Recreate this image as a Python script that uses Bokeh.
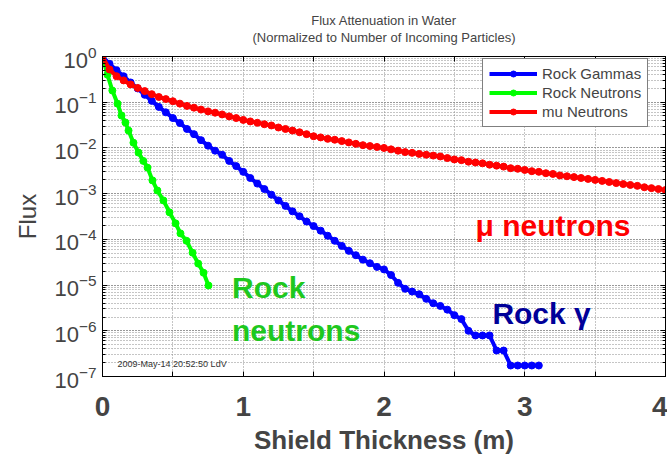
from bokeh.plotting import figure
from bokeh.models import (Range1d, LogAxis, LinearAxis, FixedTicker, LogTicker,
                          Label, Title, Legend, LegendItem)
from bokeh.embed import file_html
from bokeh.resources import INLINE

# ---------------- data ----------------
gam_x = [0.00, 0.05, 0.10, 0.15, 0.20, 0.25, 0.30, 0.35, 0.40, 0.45,
         0.50, 0.55, 0.60, 0.65, 0.70, 0.75, 0.80, 0.85, 0.90, 0.95,
         1.00, 1.05, 1.10, 1.15, 1.20, 1.25, 1.30, 1.35, 1.40, 1.45,
         1.50, 1.55, 1.60, 1.65, 1.70, 1.75, 1.80, 1.85, 1.90, 1.95,
         2.00, 2.05, 2.10, 2.15, 2.20, 2.25, 2.30, 2.35, 2.40, 2.45,
         2.50, 2.55, 2.60, 2.65, 2.70, 2.75, 2.80, 2.85, 2.90, 2.95,
         3.00, 3.05, 3.10]
gam_y = [1.0, 0.69, 0.50, 0.37, 0.27, 0.20, 0.145, 0.107, 0.079, 0.060,
         0.045, 0.035, 0.026, 0.020, 0.0148, 0.0112, 0.0087, 0.0071, 0.0052, 0.0040,
         0.0030, 0.0022, 0.00166, 0.00126, 9.5e-4, 7.1e-4, 5.4e-4, 4.1e-4, 3.2e-4, 2.45e-4,
         1.95e-4, 1.55e-4, 1.2e-4, 9.3e-5, 7.2e-5, 5.6e-5, 4.5e-5, 3.6e-5, 3.0e-5, 2.5e-5,
         2.2e-5, 1.66e-5, 1.12e-5, 8.3e-6, 7.2e-6, 6.3e-6, 5.0e-6, 4.0e-6, 3.5e-6, 2.9e-6,
         2.2e-6, 1.8e-6, 1.0e-6, 7.9e-7, 7.9e-7, 7.9e-7, 3.7e-7, 3.7e-7, 1.74e-7, 1.74e-7,
         1.74e-7, 1.74e-7, 1.74e-7]

neu_x = [0.0, 0.035, 0.07, 0.107, 0.135, 0.163, 0.185, 0.22, 0.256, 0.29, 0.32,
         0.355, 0.39, 0.433, 0.476, 0.519, 0.554, 0.597, 0.64, 0.68, 0.718, 0.753]
neu_y = [1.0, 0.40, 0.18, 0.093, 0.051, 0.036, 0.024, 0.013, 7.9e-3, 5.2e-3, 3.7e-3,
         1.95e-3, 1.17e-3, 7.1e-4, 3.9e-4, 2.24e-4, 1.35e-4, 9.3e-5, 5.1e-5, 2.95e-5,
         1.86e-5, 9.8e-6]

mu_x = [0.00, 0.05, 0.10, 0.15, 0.20, 0.25, 0.30, 0.35, 0.40, 0.45,
        0.50, 0.55, 0.60, 0.65, 0.70, 0.75, 0.80, 0.85, 0.90, 0.95,
        1.00, 1.05, 1.10, 1.15, 1.20, 1.25, 1.30, 1.35, 1.40, 1.45,
        1.50, 1.55, 1.60, 1.65, 1.70, 1.75, 1.80, 1.85, 1.90, 1.95,
        2.00, 2.05, 2.10, 2.15, 2.20, 2.25, 2.30, 2.35, 2.40, 2.45,
        2.50, 2.55, 2.60, 2.65, 2.70, 2.75, 2.80, 2.85, 2.90, 2.95,
        3.00, 3.05, 3.10, 3.15, 3.20, 3.25, 3.30, 3.35, 3.40, 3.45,
        3.50, 3.55, 3.60, 3.65, 3.70, 3.75, 3.80, 3.85, 3.90, 3.95, 4.00]
mu_y = [1.0, 0.52, 0.37, 0.30, 0.245, 0.205, 0.175, 0.15, 0.13, 0.117,
        0.105, 0.093, 0.083, 0.076, 0.069, 0.063, 0.059, 0.054, 0.049, 0.045,
        0.041, 0.038, 0.0355, 0.033, 0.031, 0.028, 0.026, 0.024, 0.022, 0.020,
        0.018, 0.017, 0.0158, 0.0151, 0.0141, 0.0132, 0.0123, 0.0115, 0.011, 0.0105,
        0.010, 0.0093, 0.0087, 0.0081, 0.0078, 0.0074, 0.0071, 0.0068, 0.0065, 0.0060,
        0.0056, 0.0054, 0.0050, 0.0048, 0.0046, 0.0043, 0.0041, 0.0039, 0.0036, 0.0035,
        0.0033, 0.0031, 0.0030, 0.0028, 0.0027, 0.0025, 0.0024, 0.0023, 0.0022, 0.0021,
        0.0020, 0.0019, 0.0018, 0.0017, 0.00162, 0.00155, 0.00148, 0.00138, 0.00132, 0.00126,
        0.0012]

series_names = ["Rock Gammas", "Rock Neutrons", "mu Neutrons"]
series_colors = ["#0000ff", "#00ff00", "#ff0000"]

x_ticks = [0, 0.5, 1, 1.5, 2, 2.5, 3, 3.5, 4]
x_tick_labels = {0: "0", 0.5: "", 1: "1", 1.5: "", 2: "2", 2.5: "", 3: "3", 3.5: "", 4: "4"}

title_lines = ["Flux Attenuation in Water", "(Normalized to Number of Incoming Particles)"]

SANS = "Liberation Sans"

p = figure(width=667, height=460, output_backend="svg", toolbar_location=None,
           x_axis_type="linear", y_axis_type="log",
           x_range=Range1d(0, 4), y_range=Range1d(1e-7, 1),
           title_location=None,
           min_border_left=102, min_border_right=2, min_border_top=56,
           min_border_bottom=84, background_fill_color="white",
           border_fill_color="white")
p.outline_line_color = "black"
p.outline_line_width = 1

# axes
xa = p.xaxis[0]
xa.ticker = FixedTicker(ticks=x_ticks)
xa.major_label_overrides = x_tick_labels
xa.major_label_text_font = SANS
xa.major_label_text_font_style = "bold"
xa.major_label_text_font_size = "28px"
xa.major_label_standoff = 20
xa.axis_label = "Shield Thickness (m)"
xa.axis_label_text_font = SANS
xa.axis_label_text_font_style = "bold"
xa.axis_label_text_font_size = "26px"
xa.axis_label_standoff = 6
xa.major_tick_in = 5
xa.major_tick_out = 0
xa.minor_tick_in = 0
xa.minor_tick_out = 0
xa.axis_line_color = "black"

ya = p.yaxis[0]
ya.ticker = LogTicker(num_minor_ticks=10)
ya.major_label_text_font = SANS
ya.major_label_text_font_size = "22px"
ya.major_label_standoff = 6
ya.axis_label = "Flux"
ya.axis_label_text_font = SANS
ya.axis_label_text_font_style = "normal"
ya.axis_label_text_font_size = "24px"
ya.axis_label_standoff = 10
ya.major_tick_in = 5
ya.major_tick_out = 0
ya.minor_tick_in = 3
ya.minor_tick_out = 0

# ticks on the right and top (labels hidden)
ra = LogAxis(ticker=LogTicker(num_minor_ticks=10), major_label_text_font_size="1px",
             major_label_text_alpha=0,
             major_tick_in=5, major_tick_out=0, minor_tick_in=3, minor_tick_out=0,
             major_label_standoff=0)
p.add_layout(ra, "right")
ta = LinearAxis(ticker=FixedTicker(ticks=x_ticks), major_label_text_font_size="1px",
                major_label_text_alpha=0,
                major_tick_in=5, major_tick_out=0, minor_tick_in=0, minor_tick_out=0,
                major_label_standoff=0)
p.add_layout(ta, "above")
# invisible spacer axis that lifts the titles away from the frame
spacer = LinearAxis(ticker=FixedTicker(ticks=x_ticks), major_label_text_font_size="1px",
                    major_label_text_alpha=0, axis_line_color=None,
                    major_tick_line_color=None, minor_tick_line_color=None,
                    major_tick_in=0, major_tick_out=12, minor_tick_in=0, minor_tick_out=0,
                    major_label_standoff=0)
p.add_layout(spacer, "above")

# titles: subtitle first (nearest the frame), then the main title above it
p.add_layout(Title(text=title_lines[1], align="center", text_font=SANS,
                   text_font_size="13px", text_font_style="normal", standoff=0), "above")
p.add_layout(Title(text=title_lines[0], align="center", text_font=SANS,
                   text_font_size="13px", text_font_style="normal", standoff=0), "above")

# grids
for g in (p.xgrid[0], p.ygrid[0]):
    g.grid_line_color = "#8a8a8a"
    g.grid_line_dash = "1 2"
    g.grid_line_width = 1
p.ygrid[0].minor_grid_line_color = "#8a8a8a"
p.ygrid[0].minor_grid_line_dash = "1 2"
p.xgrid[0].ticker = FixedTicker(ticks=x_ticks)

# data
items = []
for xs, ys, name, col in [(gam_x, gam_y, series_names[0], series_colors[0]),
                          (neu_x, neu_y, series_names[1], series_colors[1]),
                          (mu_x, mu_y, series_names[2], series_colors[2])]:
    r1 = p.line(xs, ys, line_color=col, line_width=4)
    r2 = p.scatter(xs, ys, marker="circle", size=7, fill_color=col, line_color=col)
    items.append(LegendItem(label=name, renderers=[r1, r2]))

legend = Legend(items=items, location=(380, 249), label_text_font=SANS,
                label_text_font_size="15px", glyph_width=48, glyph_height=15,
                label_height=15, spacing=2, padding=6, margin=0,
                label_standoff=5,
                border_line_color="black", border_line_width=1,
                background_fill_color="white", background_fill_alpha=1.0)
p.add_layout(legend, "center")

# annotations
BIG = "30px"
p.add_layout(Label(x=2.65, y=10**-3.70, text="\u03bc neutrons", text_color="#ff0000",
                   text_font=SANS, text_font_style="bold", text_font_size=BIG,
                   text_baseline="alphabetic"))
p.add_layout(Label(x=2.77, y=10**-5.62, text="Rock \u03b3", text_color="#000099",
                   text_font=SANS, text_font_style="bold", text_font_size=BIG,
                   text_baseline="alphabetic"))
p.add_layout(Label(x=0.92, y=10**-5.05, text="Rock", text_color="#1ec81e",
                   text_font=SANS, text_font_style="bold", text_font_size=BIG,
                   text_baseline="alphabetic"))
p.add_layout(Label(x=0.92, y=10**-6.00, text="neutrons", text_color="#1ec81e",
                   text_font=SANS, text_font_style="bold", text_font_size=BIG,
                   text_baseline="alphabetic"))
p.add_layout(Label(x=0.107, y=10**-6.72, text="2009-May-14 20:52:50 LdV", text_color="#333333",
                   text_font=SANS, text_font_size="9px", text_baseline="middle"))

open("out.html", "w").write(file_html(p, INLINE))
